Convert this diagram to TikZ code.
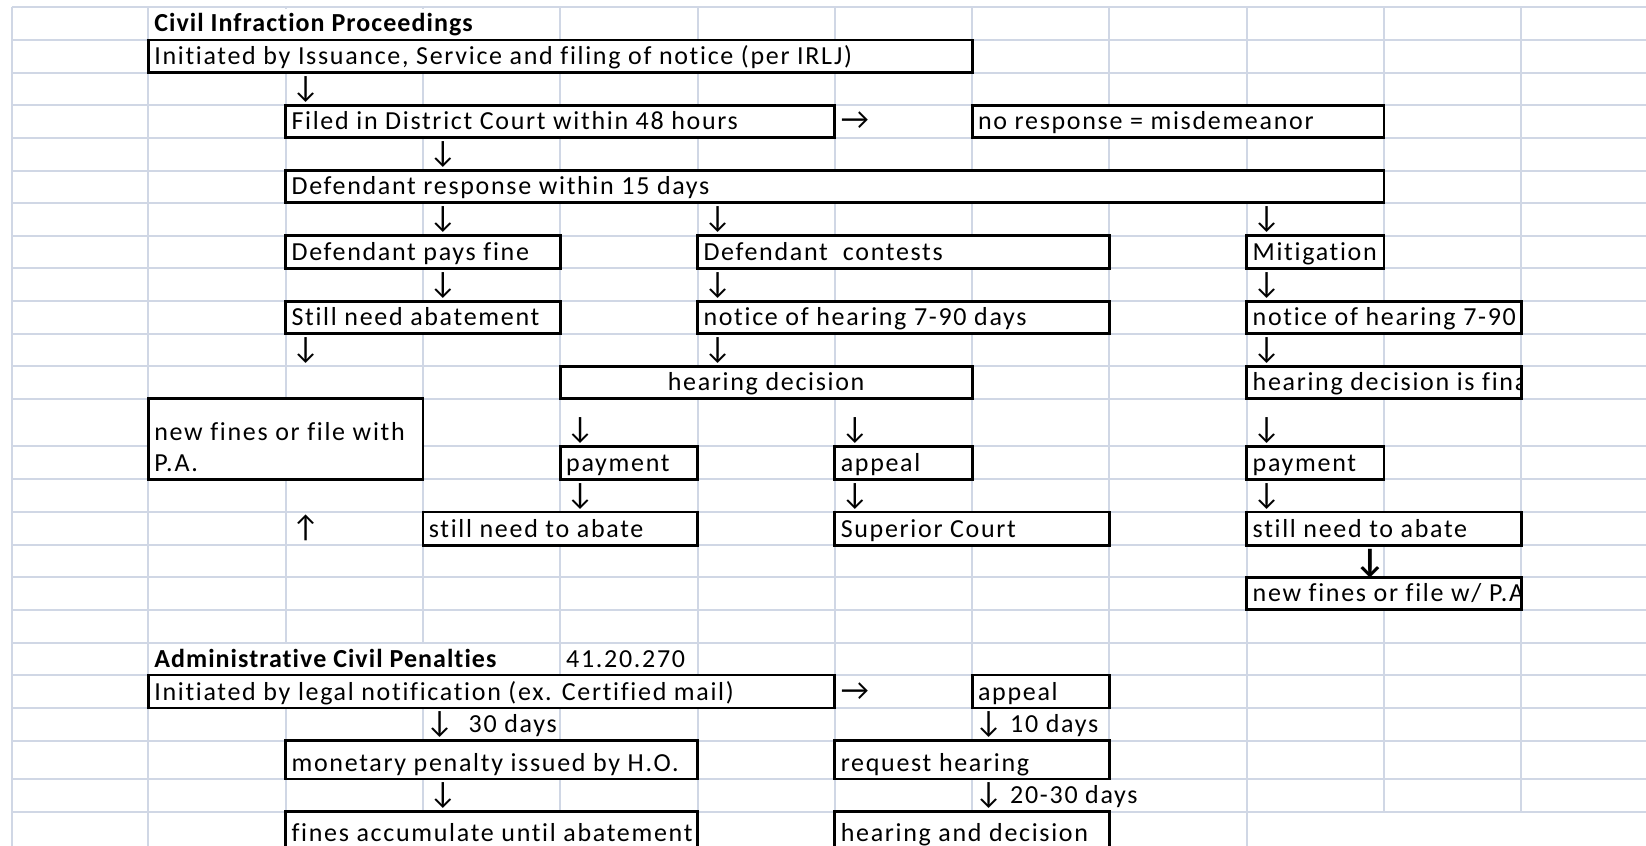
\documentclass[tikz,border=0pt]{standalone}
\usepackage{fontspec}
\setmainfont{Carlito}[LetterSpace=6.5,Ligatures={NoCommon},BoldFeatures={LetterSpace=4}]
\usetikzlibrary{fit}
\definecolor{gridc}{HTML}{D0D7E5}
\newcommand\cbox[5]{\node[cellbox,fit={(#2,#3) (#4,#5)}] (#1) {};}
\newcommand\ctext[2]{\node[txt] (t#1) at ([xshift=3pt,yshift=4pt]#1.south west) {#2};}
\newcommand\dn{{\fontsize{15.5}{15.5}\selectfont ↓}}
\newcommand\up{{\fontsize{15.5}{15.5}\selectfont ↑}}
\newcommand\rt{{\fontsize{15.5}{15.5}\selectfont →}}
\begin{document}
\begin{tikzpicture}[x=0.5pt,y=-0.5pt,
  gridl/.style={draw=gridc,line width=1pt},
  cellbox/.style={draw=black,fill=white,line width=1.4pt,inner sep=0pt,outer sep=0pt},
  txt/.style={anchor=base west,inner sep=0pt,outer sep=0pt,font=\fontsize{13}{15}\selectfont},
  btxt/.style={txt,font=\fontsize{13}{15}\selectfont\bfseries},
  mask/.style={fill=white,draw=none}
]
\useasboundingbox (0,0) rectangle (1646,846);
\fill[white] (0,0) rectangle (1646,846);
\begin{scope}
\clip (0,0) rectangle (1646,846);
% grid
\foreach \y in {7.3,40,72.7,105.3,137.7,170.7,202.7,235.7,268.3,301.3,333.7,366.3,398.7,446.3,479.3,512,545.3,577.3,609.7,643,675,708,740.7,779,811.7}
  \draw[gridl] (11.7,\y) -- (1646,\y);
\foreach \x in {11.7,148.3,285.6,422.9,560.2,697.5,834.8,972.1,1109.4,1246.7}
  \draw[gridl] (\x,7.3) -- (\x,850);
\foreach \x in {1384,1521.3}
  \draw[gridl] (\x,7.3) -- (\x,811.7);
% overflow masks
\fill[mask] (149.6,8.6) rectangle (558.9,38.7);
\fill[mask] (149.6,644.3) rectangle (558.9,673.7);
\fill[mask] (973.4,780.3) rectangle (1245.4,810.4);

% ---- Civil Infraction Proceedings ----
\node[btxt] (title1) at (154.3,32) {Civil Infraction Proceedings};
\cbox{bInit}{148.3}{40}{972.1}{72.7}
\ctext{bInit}{Initiated by Issuance, Service and filing of notice (per IRLJ)}
\node[txt] (a1) at (291.6,97.3) {\dn};
\cbox{bFiled}{285.6}{105.3}{834.8}{137.7}
\ctext{bFiled}{Filed in District Court within 48 hours}
\node[txt] (a2) at (840.8,129.7) {\rt};
\cbox{bNoResp}{972.1}{105.3}{1384}{137.7}
\ctext{bNoResp}{no response = misdemeanor}
\node[txt] (a3) at (428.9,162.7) {\dn};
\cbox{bResp}{285.6}{170.7}{1384}{202.7}
\ctext{bResp}{Defendant response within 15 days}
\node[txt] (a4) at (428.9,227.7) {\dn};
\node[txt] (a5) at (703.5,227.7) {\dn};
\node[txt] (a6) at (1252.7,227.7) {\dn};
\cbox{bPays}{285.6}{235.7}{560.2}{268.3}
\ctext{bPays}{Defendant pays fine}
\cbox{bContest}{697.5}{235.7}{1109.4}{268.3}
\ctext{bContest}{Defendant\ \ contests}
\cbox{bMitig}{1246.7}{235.7}{1384}{268.3}
\ctext{bMitig}{Mitigation}
\node[txt] (a7) at (428.9,293.3) {\dn};
\node[txt] (a8) at (703.5,293.3) {\dn};
\node[txt] (a9) at (1252.7,293.3) {\dn};
\cbox{bStill}{285.6}{301.3}{560.2}{333.7}
\ctext{bStill}{Still need abatement}
\cbox{bNotice}{697.5}{301.3}{1109.4}{333.7}
\ctext{bNotice}{notice of hearing 7-90 days}
\cbox{bNoticeB}{1246.7}{301.3}{1521.3}{333.7}
\begin{scope}
\clip (1246.7,301.3) rectangle (1519.9,333.7);
\ctext{bNoticeB}{notice of hearing 7-90 days}
\end{scope}
\node[txt] (a10) at (291.6,358.3) {\dn};
\node[txt] (a11) at (703.5,358.3) {\dn};
\node[txt] (a12) at (1252.7,358.3) {\dn};
\cbox{bHear}{560.2}{366.3}{972.1}{398.7}
\node[txt,anchor=base] (tbHear) at ([yshift=4pt]bHear.south) {hearing decision};
\cbox{bHearB}{1246.7}{366.3}{1521.3}{398.7}
\begin{scope}
\clip (1246.7,366.3) rectangle (1519.9,398.7);
\ctext{bHearB}{hearing decision is final}
\end{scope}
\cbox{bNewF}{148.3}{398.7}{422.9}{479.3}
\node[txt] (tbNewF1) at (154.3,440.3) {new fines or file with};
\ctext{bNewF}{P.A.}
\node[txt] (a13) at (566.2,438.3) {\dn};
\node[txt] (a14) at (840.8,438.3) {\dn};
\node[txt] (a15) at (1252.7,438.3) {\dn};
\cbox{bPay1}{560.2}{446.3}{697.5}{479.3}
\ctext{bPay1}{payment}
\cbox{bAppeal}{834.8}{446.3}{972.1}{479.3}
\ctext{bAppeal}{appeal}
\cbox{bPay2}{1246.7}{446.3}{1384}{479.3}
\ctext{bPay2}{payment}
\node[txt] (a16) at (566.2,504) {\dn};
\node[txt] (a17) at (840.8,504) {\dn};
\node[txt] (a18) at (1252.7,504) {\dn};
\node[txt] (a19) at (291.6,537.3) {\up};
\cbox{bAbate1}{422.9}{512}{697.5}{545.3}
\ctext{bAbate1}{still need to abate}
\cbox{bSup}{834.8}{512}{1109.4}{545.3}
\ctext{bSup}{Superior Court}
\cbox{bAbate2}{1246.7}{512}{1521.3}{545.3}
\ctext{bAbate2}{still need to abate}
\node[txt,anchor=base,font=\fontsize{17}{18}\selectfont\bfseries] (a20) at (1370,572) {↓};
\cbox{bNewFB}{1246.7}{577.3}{1521.3}{609.7}
\begin{scope}
\clip (1246.7,577.3) rectangle (1519.9,609.7);
\ctext{bNewFB}{new fines or file w/ P.A.}
\end{scope}

% ---- Administrative Civil Penalties ----
\node[btxt] (title2) at (154.3,667) {Administrative Civil Penalties};
\node[txt] (code) at (566.2,667) {41.20.270};
\cbox{bInit2}{148.3}{675}{834.8}{708}
\ctext{bInit2}{Initiated by legal notification (ex. Certified mail)}
\node[txt] (a21) at (840.8,700) {\rt};
\cbox{bAppeal2}{972.1}{675}{1109.4}{708}
\ctext{bAppeal2}{appeal}
\node[txt] (a22) at (425.5,732.7) {\dn\ \ 30 days};
\node[txt] (a23) at (974.6,732.7) {\dn\ 10 days};
\cbox{bMon}{285.6}{740.7}{697.5}{779}
\ctext{bMon}{monetary penalty issued by H.O.}
\cbox{bReq}{834.8}{740.7}{1109.4}{779}
\ctext{bReq}{request hearing}
\node[txt] (a24) at (428.9,803.7) {\dn};
\node[txt] (a25) at (974.6,803.7) {\dn\ 20-30 days};
\cbox{bFines}{285.6}{811.7}{697.5}{849}
\ctext{bFines}{fines accumulate until abatement}
\cbox{bHearDec}{834.8}{811.7}{1109.4}{849}
\ctext{bHearDec}{hearing and decision}
\end{scope}
\end{tikzpicture}
\end{document}
